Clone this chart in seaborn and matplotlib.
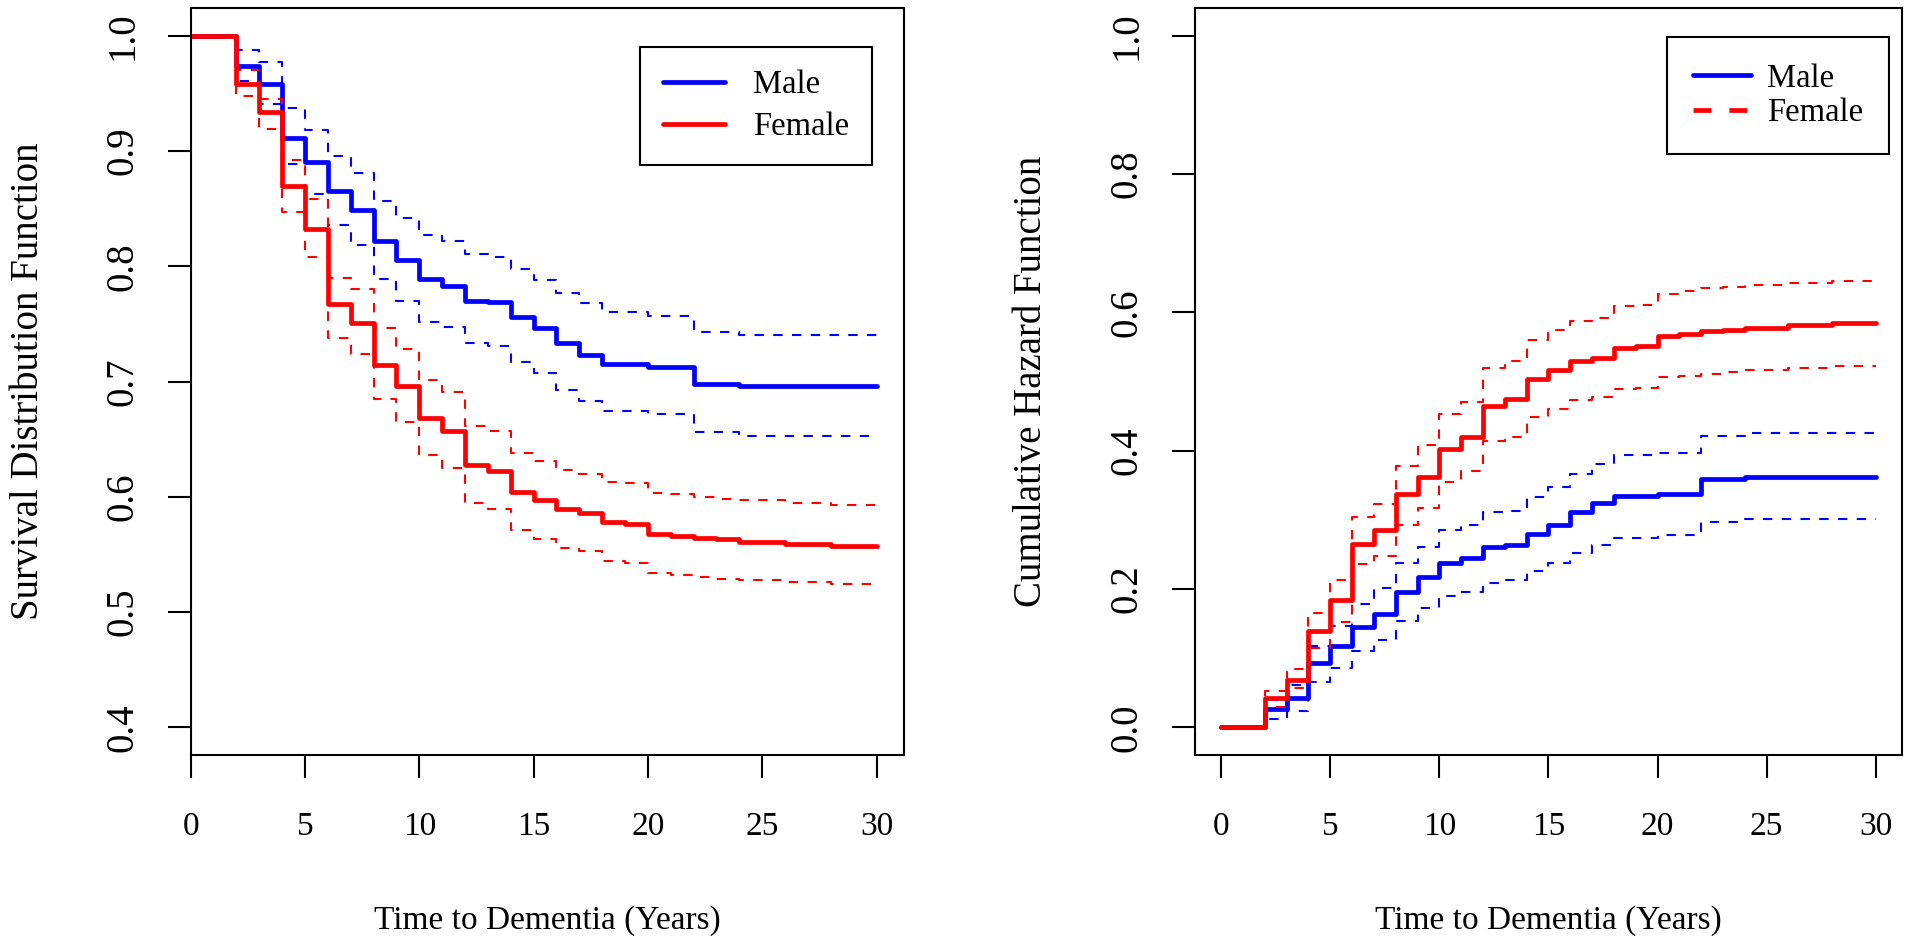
import numpy as np
import pandas as pd
import seaborn as sns
import matplotlib.pyplot as plt
from matplotlib.lines import Line2D

# %%
# Kaplan-Meier estimates (yearly steps, 0..30)
years = list(range(31))

male_surv = [1.0, 1.0, 0.974, 0.958, 0.911, 0.890, 0.865, 0.849, 0.822, 0.805,
             0.789, 0.783, 0.770, 0.769, 0.756, 0.746, 0.733, 0.723, 0.715, 0.715,
             0.713, 0.713, 0.698, 0.698, 0.696, 0.696, 0.696, 0.696, 0.696, 0.696, 0.696]
male_upper = [1.0, 1.0, 0.988, 0.977, 0.937, 0.918, 0.896, 0.881, 0.857, 0.842,
              0.827, 0.822, 0.811, 0.808, 0.798, 0.788, 0.777, 0.768, 0.760, 0.760,
              0.757, 0.757, 0.743, 0.743, 0.740, 0.740, 0.740, 0.740, 0.740, 0.740, 0.740]
male_lower = [1.0, 1.0, 0.961, 0.941, 0.889, 0.863, 0.836, 0.818, 0.789, 0.770,
              0.752, 0.747, 0.733, 0.731, 0.717, 0.707, 0.693, 0.683, 0.674, 0.674,
              0.672, 0.672, 0.656, 0.656, 0.653, 0.653, 0.653, 0.653, 0.653, 0.653, 0.653]

female_surv = [1.0, 1.0, 0.958, 0.934, 0.870, 0.832, 0.767, 0.751, 0.714, 0.696,
               0.668, 0.657, 0.628, 0.622, 0.604, 0.597, 0.589, 0.586, 0.578, 0.576,
               0.568, 0.566, 0.564, 0.563, 0.561, 0.561, 0.559, 0.559, 0.557, 0.557, 0.557]
female_upper = [1.0, 1.0, 0.970, 0.945, 0.892, 0.858, 0.790, 0.780, 0.746, 0.728,
                0.701, 0.691, 0.661, 0.657, 0.638, 0.631, 0.623, 0.620, 0.613, 0.612,
                0.603, 0.602, 0.600, 0.598, 0.597, 0.597, 0.595, 0.595, 0.593, 0.593, 0.593]
female_lower = [1.0, 1.0, 0.948, 0.919, 0.847, 0.808, 0.738, 0.724, 0.685, 0.665,
                0.636, 0.625, 0.595, 0.589, 0.571, 0.563, 0.556, 0.553, 0.544, 0.543,
                0.534, 0.532, 0.530, 0.529, 0.528, 0.528, 0.526, 0.526, 0.524, 0.524, 0.524]

# cumulative hazard panel
male_haz = [0.0, 0.0, 0.026, 0.043, 0.093, 0.117, 0.145, 0.164, 0.196, 0.217,
            0.237, 0.245, 0.261, 0.263, 0.280, 0.293, 0.311, 0.324, 0.335, 0.335,
            0.338, 0.338, 0.359, 0.359, 0.362, 0.362, 0.362, 0.362, 0.362, 0.362, 0.362]
male_haz_upper = [0.0, 0.0, 0.040, 0.061, 0.118, 0.147, 0.179, 0.201, 0.237, 0.261,
                  0.285, 0.292, 0.311, 0.313, 0.333, 0.347, 0.367, 0.381, 0.394, 0.394,
                  0.397, 0.397, 0.421, 0.421, 0.426, 0.426, 0.426, 0.426, 0.426, 0.426, 0.426]
male_haz_lower = [0.0, 0.0, 0.012, 0.023, 0.065, 0.086, 0.110, 0.127, 0.154, 0.172,
                  0.190, 0.196, 0.209, 0.213, 0.226, 0.238, 0.252, 0.264, 0.274, 0.274,
                  0.278, 0.278, 0.297, 0.297, 0.301, 0.301, 0.301, 0.301, 0.301, 0.301, 0.301]

female_haz = [0.0, 0.0, 0.043, 0.068, 0.139, 0.184, 0.265, 0.286, 0.337, 0.362,
              0.403, 0.420, 0.465, 0.475, 0.504, 0.516, 0.529, 0.534, 0.548, 0.552,
              0.566, 0.569, 0.573, 0.574, 0.578, 0.578, 0.582, 0.582, 0.585, 0.585, 0.585]
female_haz_upper = [0.0, 0.0, 0.053, 0.084, 0.166, 0.213, 0.304, 0.323, 0.378, 0.408,
                    0.453, 0.470, 0.519, 0.529, 0.560, 0.574, 0.587, 0.592, 0.609, 0.611,
                    0.627, 0.631, 0.635, 0.637, 0.639, 0.639, 0.642, 0.642, 0.646, 0.646, 0.646]
female_haz_lower = [0.0, 0.0, 0.030, 0.057, 0.114, 0.153, 0.236, 0.248, 0.293, 0.317,
                    0.355, 0.370, 0.414, 0.420, 0.449, 0.460, 0.473, 0.478, 0.489, 0.491,
                    0.506, 0.508, 0.511, 0.514, 0.516, 0.516, 0.519, 0.519, 0.523, 0.523, 0.523]

# %%
sns.set_theme(style='white')
plt.rcParams['font.family'] = ['Liberation Serif', 'DejaVu Serif']
plt.rcParams['text.color'] = 'black'
plt.rcParams['axes.labelcolor'] = 'black'
plt.rcParams['xtick.color'] = 'black'
plt.rcParams['ytick.color'] = 'black'

FS_H = 24      # horizontal text
FS_V = 28      # rotated text (y axis)
FS_LEG = 23.5
MAIN_LW = 3.4
CI_LW = 1.5
CI_DASH = (0, (4.5, 4.5))


def step(ax, y, color, lw, ls='-'):
    sns.lineplot(x=years, y=y, ax=ax, color=color, lw=lw, linestyle=ls,
                 drawstyle='steps-post', errorbar=None, legend=False)


def style_axes(ax, yticks, ylim, xlim):
    ax.set_xlim(*xlim)
    ax.set_ylim(*ylim)
    ax.set_xticks([0, 5, 10, 15, 20, 25, 30])
    ax.set_xticklabels([str(v) for v in [0, 5, 10, 15, 20, 25, 30]], fontsize=FS_H)
    ax.set_yticks(yticks)
    ax.set_yticklabels(['%.1f' % v for v in yticks], fontsize=FS_V)
    for lab in ax.get_yticklabels():
        lab.set_rotation(90)
        lab.set_va('center')
    ax.tick_params(bottom=True, left=True, direction='out', length=16.5,
                   width=1.5, color='black')
    ax.tick_params(axis='x', pad=24)
    ax.tick_params(axis='y', pad=19)
    for sp in ax.spines.values():
        sp.set_color('black')
        sp.set_linewidth(1.5)
        sp.set_visible(True)
    ax.grid(False)


fig = plt.figure(figsize=(19.2, 9.44), dpi=100)
ax1 = fig.add_axes([0.0993, 0.2002, 0.3715, 0.7913])
ax2 = fig.add_axes([0.6224, 0.2002, 0.3682, 0.7913])

# %%
# Left: survival distribution function
step(ax1, male_lower, 'blue', CI_LW, CI_DASH)
step(ax1, male_upper, 'blue', CI_LW, CI_DASH)
step(ax1, male_surv, 'blue', MAIN_LW)
step(ax1, female_lower, 'red', CI_LW, CI_DASH)
step(ax1, female_upper, 'red', CI_LW, CI_DASH)
step(ax1, female_surv, 'red', MAIN_LW)

style_axes(ax1, [0.4, 0.5, 0.6, 0.7, 0.8, 0.9, 1.0], (0.376, 1.024), (0, 31.2))
ax1.set_xlabel('Time to Dementia (Years)', fontsize=FS_H)
ax1.set_ylabel('Survival Distribution Function', fontsize=FS_V)
ax1.xaxis.set_label_coords(0.5, -0.222)
ax1.xaxis.label.set_va('center')
ax1.yaxis.set_label_coords(-0.228, 0.5)
ax1.yaxis.label.set_va('center')

leg1 = ax1.legend(
    [Line2D([], [], color='blue', lw=MAIN_LW), Line2D([], [], color='red', lw=MAIN_LW)],
    ['Male', 'Female'], loc='upper right', bbox_to_anchor=(0.454, 0.9505),
    bbox_transform=fig.transFigure, fancybox=False, edgecolor='black', framealpha=1,
    fontsize=FS_LEG, borderpad=0.7, labelspacing=0.35, handlelength=1.9,
    handletextpad=0.85, borderaxespad=0
)
leg1.get_frame().set_linewidth(1.5)

# %%
# Right: cumulative hazard function
step(ax2, male_haz_lower, 'blue', CI_LW, CI_DASH)
step(ax2, male_haz_upper, 'blue', CI_LW, CI_DASH)
step(ax2, male_haz, 'blue', MAIN_LW)
step(ax2, female_haz_lower, 'red', CI_LW, CI_DASH)
step(ax2, female_haz_upper, 'red', CI_LW, CI_DASH)
step(ax2, female_haz, 'red', MAIN_LW)

style_axes(ax2, [0.0, 0.2, 0.4, 0.6, 0.8, 1.0], (-0.04, 1.04), (-1.2, 31.2))
ax2.set_xlabel('Time to Dementia (Years)', fontsize=FS_H)
ax2.set_ylabel('Cumulative Hazard Function', fontsize=FS_V)
ax2.xaxis.set_label_coords(0.5, -0.222)
ax2.xaxis.label.set_va('center')
ax2.yaxis.set_label_coords(-0.2306, 0.5)
ax2.yaxis.label.set_va('center')

leg2 = ax2.legend(
    [Line2D([], [], color='blue', lw=MAIN_LW),
     Line2D([], [], color='red', lw=MAIN_LW, linestyle=(0, (3.8, 3.8)))],
    ['Male', 'Female'], loc='upper right', bbox_to_anchor=(0.9839, 0.9608),
    bbox_transform=fig.transFigure, fancybox=False, edgecolor='black', framealpha=1,
    fontsize=FS_LEG, borderpad=0.8, labelspacing=0.12, handlelength=1.75,
    handletextpad=0.5, borderaxespad=0
)
leg2.get_frame().set_linewidth(1.5)

fig.savefig('out.png', dpi=100)
